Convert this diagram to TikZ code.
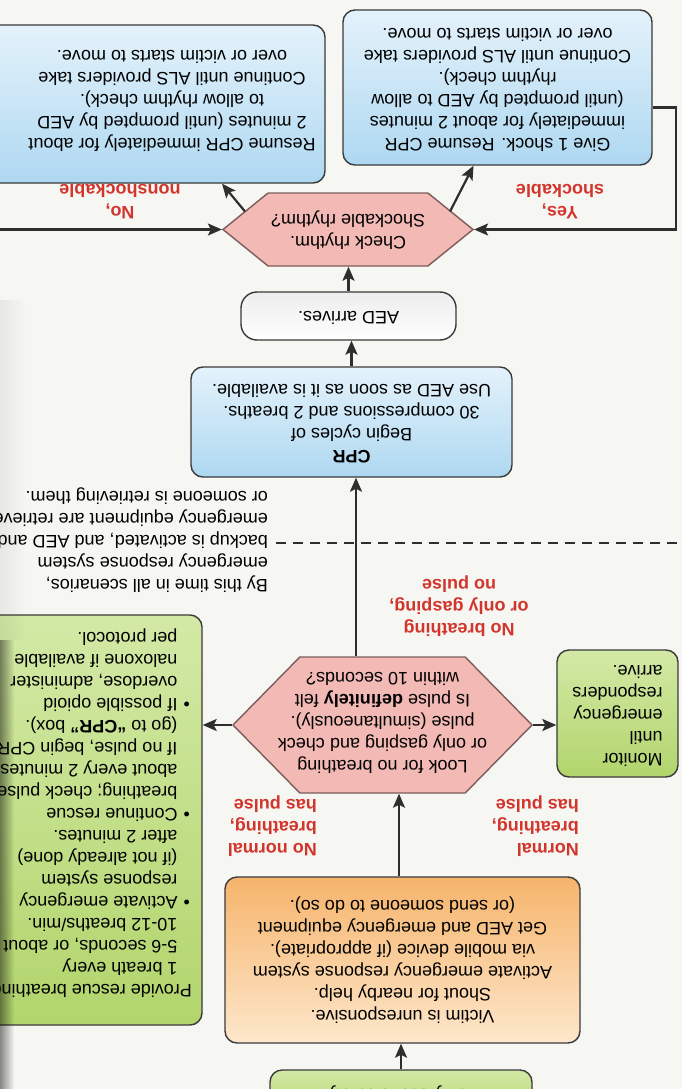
\documentclass[tikz,border=0pt]{standalone}
\usepackage{fontspec}
\setmainfont{Liberation Sans}
\usepackage{graphicx}
\usetikzlibrary{shapes.symbols,arrows.meta,calc,fadings}
\definecolor{bg}{HTML}{F6F6F3}
\definecolor{lineC}{HTML}{2E2E2E}
\definecolor{redT}{HTML}{D2352C}
\definecolor{blueT}{HTML}{E4F2FB}
\definecolor{blueB}{HTML}{AED8F1}
\definecolor{hexF}{HTML}{F3BAB5}
\definecolor{hexD}{HTML}{7B5B5B}
\definecolor{greenT}{HTML}{D3E9A6}
\definecolor{greenB}{HTML}{B2D56C}
\definecolor{orT}{HTML}{F6B46C}
\definecolor{orB}{HTML}{FDE7CB}
\definecolor{grayT}{HTML}{EDEDED}
\definecolor{grayB}{HTML}{FFFFFF}
\definecolor{boxD}{HTML}{3A3A3A}
\newcommand\flipc[1]{\rotatebox[origin=c]{180}{\begin{tabular}{@{}c@{}}#1\end{tabular}}}
\newcommand\flipl[1]{\rotatebox[origin=c]{180}{\begin{tabular}{@{}l@{}}#1\end{tabular}}}
\newcommand\mybul{\hspace{2pt}\textbullet}
\tikzset{
  box/.style={draw=boxD, line width=1.4pt, rounded corners=12pt, inner sep=0pt, align=center},
  bluebox/.style={box, top color=blueT, bottom color=blueB},
  greenbox/.style={box, top color=greenT, bottom color=greenB},
  orangebox/.style={box, top color=orT, bottom color=orB},
  graybox/.style={box, rounded corners=16pt, top color=grayT, bottom color=grayB},
  hexa/.style={signal, signal to=east and west, draw=hexD, line width=1.4pt, fill=hexF, inner sep=0pt},
  arr/.style={draw=lineC, line width=2.2pt, -{Stealth[length=14pt,width=12pt,inset=3pt]}},
  dashline/.style={draw=lineC, line width=2.2pt, dash pattern=on 10pt off 7pt},
  lbl/.style={text=redT, font=\fontsize{18pt}{22pt}\selectfont\bfseries, inner sep=0pt},
  txt/.style={inner sep=0pt},
}
\begin{document}
\begin{tikzpicture}[x=1pt,y=-1pt, every node/.style={font=\fontsize{18pt}{22pt}\selectfont}]
\useasboundingbox (0,0) rectangle (682,1089);
\clip (0,0) rectangle (682,1089);
\fill[bg] (0,0) rectangle (682,1089);

% top boxes
\node[bluebox, minimum width=309pt, minimum height=155pt] (shock) at (497.5,87.5)
 {\flipc{Give 1 shock. Resume CPR\\immediately for about 2 minutes\\(until prompted by AED to allow\\rhythm check).\\Continue until ALS providers take\\over or victim starts to move.}};
\node[bluebox, minimum width=366pt, minimum height=158pt] (nsbox) at (142,104) {};
\node[txt] (nstext) at (172,99) {\flipc{Resume CPR immediately for about\\2 minutes (until prompted by AED\\to allow rhythm check).\\Continue until ALS providers take\\over or victim starts to move.}};

% check rhythm
\node[hexa, minimum width=250pt, minimum height=73pt, signal pointer angle=78] (check) at (348,229.5) {};
\node[txt] (checkt) at (348,230) {\flipc{Check rhythm.\\Shockable rhythm?}};
\node[lbl] (yes) at (560,200) {\flipc{Yes,\\shockable}};
\node[lbl] (no) at (120,200) {\flipc{No,\\nonshockable}};

\node[graybox, minimum width=215pt, minimum height=48pt] (aed) at (348.5,316) {\flipc{AED arrives.}};
\node[bluebox, minimum width=321pt, minimum height=110pt] (cpr) at (351.5,422)
 {\flipc{\textbf{CPR}\\Begin cycles of\\30 compressions and 2 breaths.\\Use AED as soon as it is available.}};

\node[txt, anchor=east] (bytime) at (268,540) {\flipl{By this time in all scenarios,\\emergency response system\\backup is activated, and AED and\\emergency equipment are retrieved\\or someone is retrieving them.}};
\node[lbl] (nobr) at (459,606) {\flipc{No breathing\\or only gasping,\\no pulse}};

% look for breathing
\node[hexa, minimum width=299pt, minimum height=136pt, signal pointer angle=91] (look) at (382.5,725) {};
\node[txt] (lookt) at (382.5,721) {\flipc{Look for no breathing\\or only gasping and check\\pulse (simultaneously).\\Is pulse \textbf{definitely} felt\\within 10 seconds?}};

\node[greenbox, minimum width=121pt, minimum height=127pt] (monitor) at (617.5,713.5) {\flipl{Monitor\\until\\emergency\\responders\\arrive.}};
\node[greenbox, minimum width=242pt, minimum height=410pt] (rescue) at (81,820) {};
\node[txt, anchor=east] (rescuet) at (192,813) {\rotatebox[origin=c]{180}{\begin{tabular}{@{}l@{\hspace{6pt}}l@{}}
\multicolumn{2}{@{}l@{}}{Provide rescue breathing:}\\
 & 1 breath every\\
 & 5-6 seconds, or about\\
 & 10-12 breaths/min.\\
\mybul & Activate emergency\\
 & response system\\
 & (if not already done)\\
 & after 2 minutes.\\
\mybul & Continue rescue\\
 & breathing; check pulse\\
 & about every 2 minutes.\\
 & If no pulse, begin CPR\\
 & (go to \textbf{“CPR”} box).\\
\mybul & If possible opioid\\
 & overdose, administer\\
 & naloxone if available\\
 & per protocol.
\end{tabular}}};

\node[lbl, anchor=east] (normal) at (579,826) {\flipl{Normal\\breathing,\\has pulse}};
\node[lbl, anchor=east] (nonormal) at (317,826) {\flipl{No normal\\breathing,\\has pulse}};

\node[orangebox, minimum width=355pt, minimum height=166pt] (victim) at (402.5,960)
 {\flipc{Victim is unresponsive.\\Shout for nearby help.\\Activate emergency response system\\via mobile device (if appropriate).\\Get AED and emergency equipment\\(or send someone to do so).}};
\node[greenbox, minimum width=262pt, minimum height=48pt] (verify) at (401,1094) {\flipc{Verify scene safety.}};

% connectors
\coordinate (dashA) at (276,543);
\coordinate (dashB) at (682,543);
\draw[dashline] (dashA) -- (dashB);
\draw[arr] (verify.north) -- (verify.north |- victim.south);
\draw[arr] ([xshift=-3.5pt]victim.north) -- ([xshift=-3.5pt]victim.north |- look.south);
\draw[arr] ([xshift=-26.5pt]look.north) -- ([xshift=-26.5pt]look.north |- cpr.south);
\draw[arr] (look.east) -- (look.east -| monitor.west);
\draw[arr] (look.west) -- (look.west -| rescue.east);
\draw[arr] (cpr.north) -- (cpr.north |- aed.south);
\draw[arr] (aed.north) -- (aed.north |- check.south);
\draw[arr] ($(check.center)+(102,-18)$) -- ($(shock.south)+(-24,0)$);
\draw[arr] ($(check.center)+(-103,-18)$) -- ($(nsbox.south)+(80,0)$);
\draw[arr] ([yshift=-20pt]shock.east) -- ++(23,0) |- (check.east);
\coordinate (leftin) at (0,229.5);
\draw[arr] (leftin) -- (check.west);

% page curvature shadow
\fill[black, opacity=0.06, path fading=east] (0,300) rectangle (26,640);
\fill[black, opacity=0.45, path fading=east] (0,640) rectangle (14,1089);
\end{tikzpicture}
\end{document}
